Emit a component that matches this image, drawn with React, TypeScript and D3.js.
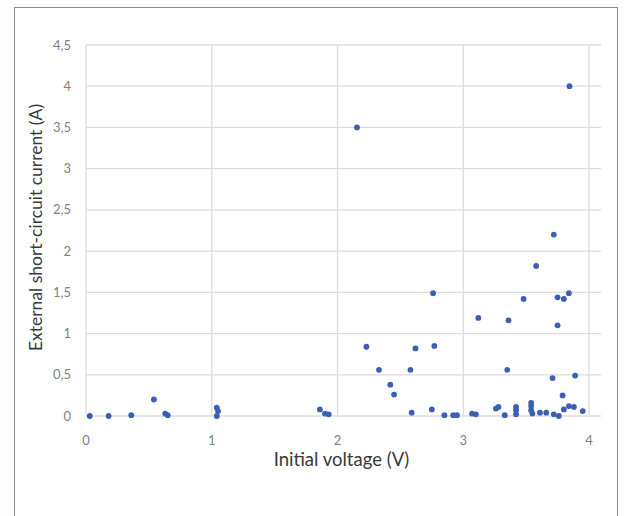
import React from 'react';
import * as d3 from 'd3';

// initial voltage (V) and external short-circuit current (A)
const voltage = [
  0.03, 0.18, 0.36, 0.54, 0.63, 0.65, 1.04, 1.05, 1.04, 1.86, 1.9, 1.93,
  2.155, 2.23, 2.33, 2.42, 2.45, 2.58, 2.59, 2.62, 2.75, 2.76, 2.77,
  2.85, 2.92, 2.95, 3.07, 3.1, 3.12, 3.26, 3.28, 3.33, 3.35, 3.36,
  3.42, 3.42, 3.42, 3.48, 3.54, 3.54, 3.54, 3.55, 3.58, 3.61, 3.66,
  3.71, 3.72, 3.72, 3.75, 3.75, 3.76, 3.79, 3.8, 3.8, 3.84, 3.845, 3.84,
  3.88, 3.89, 3.95,
];
const current = [
  0, 0, 0.01, 0.2, 0.03, 0.01, 0.1, 0.06, 0, 0.08, 0.03, 0.02,
  3.5, 0.84, 0.56, 0.38, 0.26, 0.56, 0.04, 0.82, 0.08, 1.49, 0.85,
  0.01, 0.01, 0.01, 0.03, 0.02, 1.19, 0.09, 0.11, 0.01, 0.56, 1.16,
  0.11, 0.07, 0.02, 1.42, 0.16, 0.12, 0.07, 0.03, 1.82, 0.04, 0.04,
  0.46, 2.2, 0.02, 1.44, 1.1, 0, 0.25, 0.08, 1.42, 1.49, 4.0, 0.12,
  0.11, 0.49, 0.06,
];
const xTicks = [0, 1, 2, 3, 4];
const yTicks = [0, 0.5, 1, 1.5, 2, 2.5, 3, 3.5, 4, 4.5];

const W = 624;
const H = 516;
const left = 86, right = 589, top = 45, bottom = 416;

const App = () => {
  const x = d3.scaleLinear().domain([0, 4]).range([left, right]);
  const y = d3.scaleLinear().domain([0, 4.5]).range([bottom, top]);
  const fmt = (v: number) => String(v).replace('.', ',');
  const font = 'Lato, "Open Sans", sans-serif';

  return (
    <svg width={W} height={H} style={{ position: 'absolute', left: 0, top: 0 }}>
      <rect x={0} y={0} width={W} height={H} fill="#fefefe" />
      <rect x={14.5} y={7.5} width={603} height={520} fill="#fff" stroke="#8c8c8c" strokeWidth={1} />

      {yTicks.map(t => (
        <line key={'gy' + t} x1={left} x2={601} y1={y(t)} y2={y(t)} stroke="#dcdcdc" strokeWidth={1.3} />
      ))}
      {xTicks.map(t => (
        <line key={'gx' + t} x1={x(t)} x2={x(t)} y1={top} y2={bottom} stroke="#dcdcdc" strokeWidth={1.3} />
      ))}

      {yTicks.map(t => (
        <text key={'ty' + t} x={71} y={y(t)} dy="0.35em" textAnchor="end"
          fontFamily={font} fontSize={13} fill="#808080">{fmt(t)}</text>
      ))}
      {xTicks.map(t => (
        <text key={'tx' + t} x={x(t)} y={440} dy="0.35em" textAnchor="middle"
          fontFamily={font} fontSize={13} fill="#808080">{fmt(t)}</text>
      ))}

      {voltage.map((v, i) => (
        <circle key={i} cx={x(v)} cy={y(current[i])} r={2.9} fill="#3a5fb4" />
      ))}

      <text x={(left + right) / 2 + 4} y={466} textAnchor="middle" fontFamily={font}
        fontSize={18.5} fill="#3a3a3a">Initial voltage (V)</text>
      <text transform={`translate(42, ${(top + bottom) / 2 - 3}) rotate(-90)`} textAnchor="middle"
        fontFamily={font} fontSize={17.5} fill="#3a3a3a">External short-circuit current (A)</text>
    </svg>
  );
};

export default App;
